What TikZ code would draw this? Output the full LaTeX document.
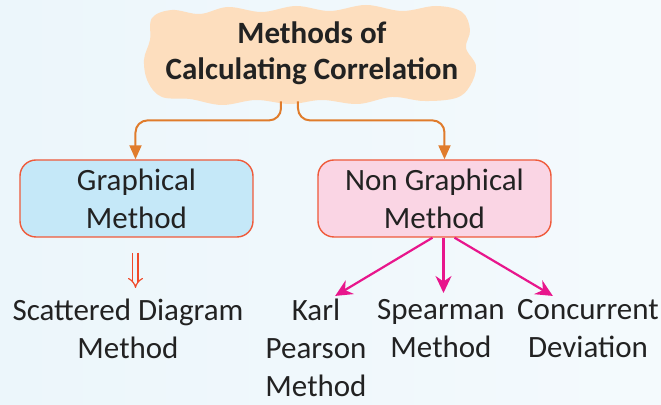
\documentclass[tikz,border=0pt]{standalone}
\usepackage{fontspec}
\setmainfont{Carlito}
\usepackage{tikz}
\usetikzlibrary{positioning,calc,arrows.meta}
\usepackage{xcolor}
\definecolor{bgblue}{RGB}{236,246,251}
\definecolor{bgblue2}{RGB}{244,250,253}
\definecolor{peach}{RGB}{253,222,190}
\definecolor{boxblue}{RGB}{197,232,248}
\definecolor{boxpink}{RGB}{250,213,228}
\definecolor{boxline}{RGB}{239,90,58}
\definecolor{linkorange}{RGB}{224,124,44}
\definecolor{linkpink}{RGB}{232,22,140}
\definecolor{linkred}{RGB}{240,74,42}
\definecolor{ink}{RGB}{34,34,34}

\begin{document}
\begin{tikzpicture}[x=0.5pt,y=-0.5pt,
    txt/.style={font=\fontsize{15.5}{19}\selectfont,text=ink,align=center},
    title/.style={txt,font=\fontsize{15.5}{18}\selectfont\bfseries,minimum width=160pt,minimum height=48pt},
    box/.style={txt,draw=boxline,line width=0.7pt,rounded corners=8pt,minimum width=116.5pt,minimum height=38.5pt},
    leaf/.style={txt,anchor=north,inner sep=0pt},
    orangelink/.style={draw=linkorange,line width=1pt,rounded corners=6pt,-{Triangle[width=6pt,length=7pt]},color=linkorange},
    pinklink/.style={draw=linkpink,line width=1.1pt,-{Stealth[width=8pt,length=8.5pt]},color=linkpink}]

% background
\shade[left color=bgblue,right color=bgblue2] (0,0) rectangle (661,405);
\useasboundingbox (0,0) rectangle (661,405);

% cloud behind the title
\fill[peach] plot[smooth cycle,tension=0.6] coordinates {
  (152,18) (172,10) (200,14) (228,7) (262,12) (296,6) (330,11) (366,5)
  (402,11) (436,6) (462,12) (470,30) (466,48) (476,66) (470,86) (456,98)
  (424,101) (392,97) (358,104) (322,100) (290,104) (256,100) (222,105)
  (190,99) (162,97) (148,82) (144,60) (150,40)};

\node[title] (top) at (312,53) {Methods of\\Calculating Correlation};

\node[box,fill=boxblue] (graph) at (136.5,198.5) {Graphical\\Method};
\node[box,fill=boxpink] (nongraph) at (434.5,198.5) {Non Graphical\\Method};

\node[leaf] (scatter) at (128,299) {Scattered Diagram\\Method};
\node[leaf] (karl) at (316,299) {Karl\\Pearson\\Method};
\node[leaf] (spear) at (441,299) {Spearman\\Method};
\node[leaf] (concur) at (588,299) {Concurrent\\Deviation};

\draw[orangelink] ([xshift=-15.5pt]top.south) -- ++(0,19) -| ([xshift=-0.5pt]graph.north);
\draw[orangelink] ([xshift=-7pt]top.south) -- ++(0,19) -| ([xshift=5pt]nongraph.north);

\draw[linkred,line width=0.6pt,double=bgblue,double distance=2pt,-{Implies[length=6pt]},shorten <=7.5pt,shorten >=5.5pt]
  ([xshift=-0.5pt]graph.south) -- ([xshift=-0.5pt]graph.south |- scatter.north);

\draw[pinklink,shorten >=3pt] ([xshift=-1pt]nongraph.south) -- ([xshift=7pt]karl.north);
\draw[pinklink,shorten >=3pt] ([xshift=4.5pt]nongraph.south) -- ([xshift=4.5pt]nongraph.south |- spear.north);
\draw[pinklink,shorten >=3pt] ([xshift=10pt]nongraph.south) -- ([xshift=-15pt]concur.north);

\end{tikzpicture}
\end{document}
